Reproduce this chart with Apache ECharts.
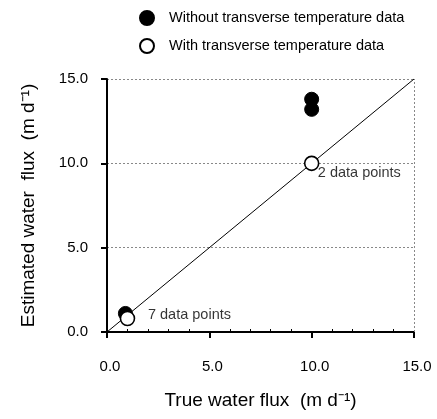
<!DOCTYPE html>
<html>
<head>
<meta charset="utf-8">
<script src="https://cdn.jsdelivr.net/npm/echarts@6/dist/echarts.min.js"></script>
<style>html,body{margin:0;padding:0;background:#fff;}#c{width:437px;height:419px;}</style>
</head>
<body>
<div id="c"></div>
<script>
const withoutTransverse = [[0.9, 1.1], [10, 13.8], [10, 13.2]];
const withTransverse = [[1.0, 0.8], [10, 10.0]];
const oneToOneLine = [[0, 0], [15, 15]];
const annotations = [[2.0, 1.0, '7 data points'], [10.3, 9.4, '2 data points']];
const axisTicks = [0, 5, 15];
const seriesNames = ['Without transverse temperature data', 'With transverse temperature data'];

const FONT = '"Liberation Sans", Arial, sans-serif';
const chart = echarts.init(document.getElementById('c'), null, {renderer: 'canvas'});
chart.setOption({
  animation: false,
  backgroundColor: '#fff',
  grid: {left: 107, right: 23, top: 79, bottom: 87},
  legend: {
    orient: 'vertical', left: 134, top: 5, itemGap: 12,
    itemWidth: 14, itemHeight: 14, icon: 'circle',
    data: seriesNames,
    textStyle: {fontFamily: FONT, fontSize: 14.5, color: '#000', padding: [0, 0, 0, 10]}
  },
  xAxis: {
    type: 'value', min: axisTicks[0], max: axisTicks[2], interval: axisTicks[1],
    name: 'True water flux  (m d\u207B\u00B9)', nameLocation: 'middle', nameGap: 59,
    nameTextStyle: {fontFamily: FONT, fontSize: 19, color: '#000'},
    axisLine: {onZero: false, lineStyle: {color: '#000', width: 2}},
    axisTick: {show: true, length: 6, lineStyle: {color: '#000', width: 2}},
    minorTick: {show: true, splitNumber: 5, length: -3, lineStyle: {color: '#000', width: 1}},
    axisLabel: {fontFamily: FONT, fontSize: 15, color: '#000', margin: 27,
      padding: [0, 0, 0, 6], formatter: v => v.toFixed(1)},
    splitLine: {show: false}
  },
  yAxis: {
    type: 'value', min: axisTicks[0], max: axisTicks[2], interval: axisTicks[1],
    name: 'Estimated water  flux  (m d\u207B\u00B9)', nameLocation: 'middle', nameGap: 69,
    nameTextStyle: {fontFamily: FONT, fontSize: 19, color: '#000'},
    axisLine: {onZero: false, lineStyle: {color: '#000', width: 2}},
    axisTick: {show: true, length: 6, lineStyle: {color: '#000', width: 2}},
    axisLabel: {fontFamily: FONT, fontSize: 15, color: '#000', margin: 19,
      padding: [0, 0, 10, 0], formatter: v => v.toFixed(1)},
    splitLine: {show: true, lineStyle: {color: '#888', width: 1, type: [2, 2]}}
  },
  series: [
    {
      type: 'line', data: oneToOneLine, showSymbol: false, symbol: 'none',
      lineStyle: {color: '#000', width: 1}, z: 2, silent: true,
      markLine: {
        symbol: 'none', silent: true, label: {show: false},
        lineStyle: {color: '#888', width: 1, type: [2, 2]},
        data: [{xAxis: axisTicks[2]}]
      }
    },
    {
      name: seriesNames[0], type: 'scatter', data: withoutTransverse,
      symbol: 'circle', symbolSize: 14,
      itemStyle: {color: '#000', borderColor: '#000', borderWidth: 1, opacity: 1}, z: 3
    },
    {
      name: seriesNames[1], type: 'scatter', data: withTransverse,
      symbol: 'circle', symbolSize: 14,
      itemStyle: {color: '#fff', borderColor: '#000', borderWidth: 1.6, opacity: 1}, z: 4
    },
    {
      type: 'scatter', data: annotations, symbolSize: 0, silent: true, z: 5,
      label: {show: true, position: 'right', distance: 0, formatter: p => p.data[2],
        fontFamily: FONT, fontSize: 14.5, color: '#000'}
    }
  ]
});
</script>
</body>
</html>
